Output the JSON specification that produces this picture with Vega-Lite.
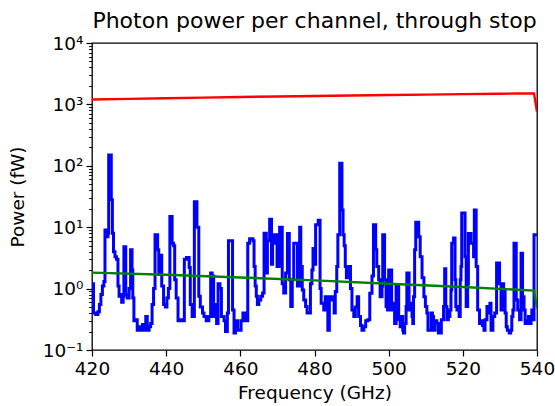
{
  "$schema": "https://vega.github.io/schema/vega-lite/v6.json",
  "width": 445,
  "height": 307,
  "autosize": {"type": "none"},
  "padding": {"left": 92, "top": 43, "right": 18, "bottom": 56},
  "background": "white",
  "config": {
    "font": "DejaVu Sans",
    "view": {"stroke": "black", "strokeWidth": 1.3},
    "axis": {"grid": false, "domain": false, "tickColor": "black", "labelColor": "black", "titleColor": "black", "labelFont": "DejaVu Sans", "titleFont": "DejaVu Sans", "labelFontSize": 18.5, "titleFontSize": 18.5, "titleFontWeight": "normal", "tickWidth": 1.2}
  },
  "title": {"text": "Photon power per channel, through stop", "fontSize": 22, "fontWeight": "normal", "font": "DejaVu Sans", "color": "black", "anchor": "middle", "baseline": "alphabetic", "offset": 14, "dy": 30},
  "datasets": {
    "blue": [
      {"f":420.0,"p":1.2},{"f":420.4,"p":0.4},{"f":421.0,"p":0.38},{"f":421.6,"p":0.42},{"f":422.0,"p":0.55},{"f":422.4,"p":0.8},{"f":422.8,"p":1.1},{"f":423.2,"p":1.3},{"f":423.5,"p":9},{"f":424.0,"p":7},{"f":424.3,"p":8},{"f":424.5,"p":150},{"f":425.2,"p":28},{"f":425.5,"p":8},{"f":425.8,"p":4},{"f":426.2,"p":3.3},{"f":426.6,"p":3.0},{"f":427.0,"p":1.1},{"f":427.3,"p":0.75},{"f":427.7,"p":0.8},{"f":428.0,"p":0.6},{"f":428.4,"p":0.75},{"f":428.6,"p":4.8},{"f":429.1,"p":0.8},{"f":429.5,"p":0.7},{"f":430.0,"p":1.0},{"f":430.4,"p":4.3},{"f":430.8,"p":2.0},{"f":431.0,"p":0.7},{"f":431.3,"p":0.3},{"f":431.8,"p":0.31},{"f":432.2,"p":0.21},{"f":432.8,"p":0.24},{"f":433.2,"p":0.21},{"f":433.6,"p":0.26},{"f":434.0,"p":0.21},{"f":434.5,"p":0.35},{"f":434.9,"p":0.21},{"f":435.4,"p":0.24},{"f":435.8,"p":0.27},{"f":436.2,"p":0.55},{"f":436.6,"p":1.0},{"f":437.0,"p":7.5},{"f":437.7,"p":4.3},{"f":438.0,"p":1.7},{"f":438.3,"p":3.5},{"f":438.8,"p":1.1},{"f":439.3,"p":0.55},{"f":439.8,"p":0.5},
      {"f":440.2,"p":0.7},{"f":440.6,"p":1.0},{"f":441.0,"p":15},{"f":441.6,"p":5.5},{"f":442.0,"p":5},{"f":442.3,"p":1.4},{"f":442.7,"p":0.7},{"f":443.2,"p":0.3},{"f":443.8,"p":0.31},{"f":444.3,"p":0.3},{"f":444.9,"p":3.0},{"f":445.5,"p":3.2},{"f":446.2,"p":2.2},{"f":446.5,"p":0.55},{"f":447.0,"p":0.35},{"f":447.6,"p":26},{"f":448.3,"p":10},{"f":448.8,"p":0.75},{"f":449.2,"p":0.5},{"f":449.8,"p":0.4},{"f":450.2,"p":0.35},{"f":450.8,"p":0.3},{"f":451.5,"p":0.35},{"f":452.0,"p":1.8},{"f":452.4,"p":1.6},{"f":452.8,"p":0.35},{"f":453.2,"p":0.55},{"f":453.6,"p":0.27},{"f":454.0,"p":1.2},{"f":454.5,"p":1.0},{"f":454.9,"p":0.35},{"f":455.6,"p":0.3},{"f":456.0,"p":0.2},{"f":456.5,"p":0.4},{"f":456.8,"p":6},{"f":457.9,"p":0.45},{"f":458.3,"p":0.19},{"f":458.7,"p":0.3},{"f":459.3,"p":0.21},
      {"f":460.2,"p":0.3},{"f":460.7,"p":0.4},{"f":461.3,"p":0.3},{"f":462.0,"p":5.5},{"f":462.5,"p":6.5},{"f":463.4,"p":6.0},{"f":463.7,"p":2.3},{"f":464.0,"p":1.1},{"f":464.3,"p":0.75},{"f":464.6,"p":0.55},{"f":465.0,"p":0.65},{"f":465.5,"p":0.75},{"f":466.0,"p":0.85},{"f":466.4,"p":8},{"f":467.0,"p":1.8},{"f":467.3,"p":6},{"f":467.9,"p":13.5},{"f":468.4,"p":2.5},{"f":468.7,"p":5.5},{"f":469.2,"p":7.5},{"f":469.9,"p":2.3},{"f":470.6,"p":10},{"f":471.3,"p":1.2},{"f":471.7,"p":0.85},{"f":472.2,"p":1.8},{"f":472.7,"p":7.9},{"f":473.2,"p":1.4},{"f":473.6,"p":0.51},{"f":474.0,"p":1.4},{"f":474.4,"p":5.5},{"f":475.4,"p":1.1},{"f":476.0,"p":10},{"f":476.3,"p":2.3},{"f":476.7,"p":0.95},{"f":477.1,"p":0.65},{"f":477.6,"p":0.51},{"f":478.0,"p":0.4},{"f":478.9,"p":1.2},{"f":479.3,"p":2.0},{"f":479.6,"p":4.5},
      {"f":480.0,"p":2.5},{"f":480.3,"p":11},{"f":481.0,"p":13},{"f":481.5,"p":1.0},{"f":481.8,"p":0.58},{"f":482.5,"p":0.45},{"f":482.9,"p":0.74},{"f":483.6,"p":0.21},{"f":484.0,"p":0.74},{"f":484.5,"p":0.65},{"f":484.9,"p":0.74},{"f":485.3,"p":0.4},{"f":485.6,"p":0.9},{"f":486.0,"p":2.3},{"f":486.3,"p":7.5},{"f":486.8,"p":110},{"f":487.4,"p":19},{"f":487.7,"p":7.5},{"f":488.0,"p":5},{"f":488.3,"p":2.3},{"f":488.6,"p":1.5},{"f":489.0,"p":2.3},{"f":489.7,"p":1.0},{"f":490.1,"p":0.45},{"f":490.6,"p":0.35},{"f":491.0,"p":0.5},{"f":491.5,"p":0.74},{"f":491.9,"p":0.35},{"f":492.4,"p":0.25},{"f":492.8,"p":0.21},{"f":493.3,"p":0.24},{"f":493.8,"p":0.3},{"f":494.4,"p":0.31},{"f":494.9,"p":0.84},{"f":495.5,"p":1.6},{"f":495.9,"p":11},{"f":496.5,"p":4.3},{"f":496.8,"p":2.3},{"f":497.3,"p":1.4},{"f":497.7,"p":0.74},{"f":498.2,"p":1.1},{"f":498.4,"p":7.5},{"f":498.9,"p":1.4},{"f":499.3,"p":0.51},{"f":499.7,"p":0.45},
      {"f":500.0,"p":2.0},{"f":500.8,"p":0.45},{"f":501.3,"p":0.58},{"f":501.6,"p":0.27},{"f":502.0,"p":1.1},{"f":502.7,"p":0.31},{"f":503.1,"p":0.24},{"f":503.4,"p":0.35},{"f":503.8,"p":0.21},{"f":504.0,"p":0.19},{"f":504.3,"p":0.27},{"f":504.7,"p":0.51},{"f":504.9,"p":1.8},{"f":505.5,"p":0.45},{"f":505.8,"p":0.58},{"f":506.3,"p":0.35},{"f":506.5,"p":0.27},{"f":506.7,"p":0.74},{"f":507.0,"p":4.3},{"f":507.3,"p":12},{"f":508.1,"p":7},{"f":508.5,"p":3.3},{"f":509.0,"p":1.5},{"f":509.5,"p":0.74},{"f":509.9,"p":0.51},{"f":510.3,"p":0.4},{"f":510.6,"p":0.21},{"f":511.5,"p":0.4},{"f":511.8,"p":0.35},{"f":512.1,"p":0.21},{"f":512.5,"p":0.3},{"f":513.0,"p":0.27},{"f":513.4,"p":0.19},{"f":514.2,"p":0.31},{"f":514.8,"p":0.51},{"f":515.1,"p":2.1},{"f":515.4,"p":0.51},{"f":515.7,"p":0.31},{"f":516.1,"p":0.35},{"f":516.5,"p":0.45},{"f":516.8,"p":0.95},{"f":517.0,"p":5.5},{"f":517.5,"p":6.7},{"f":517.9,"p":1.4},{"f":518.1,"p":0.51},{"f":518.4,"p":0.45},{"f":518.8,"p":0.51},{"f":519.0,"p":0.35},{"f":519.3,"p":1.4},{"f":519.5,"p":2.3},{"f":519.7,"p":17},
      {"f":520.6,"p":3.3},{"f":520.9,"p":0.51},{"f":521.3,"p":1.2},{"f":521.5,"p":7.9},{"f":522.2,"p":5.5},{"f":522.9,"p":3.3},{"f":523.1,"p":19},{"f":523.6,"p":2.3},{"f":524.0,"p":0.45},{"f":524.5,"p":0.27},{"f":524.9,"p":0.3},{"f":525.3,"p":0.25},{"f":525.7,"p":0.21},{"f":526.0,"p":0.31},{"f":526.5,"p":0.51},{"f":526.9,"p":0.4},{"f":527.3,"p":0.58},{"f":527.6,"p":0.21},{"f":528.1,"p":0.35},{"f":528.6,"p":0.4},{"f":529.1,"p":2.6},{"f":529.9,"p":1.2},{"f":530.3,"p":0.45},{"f":530.6,"p":1.2},{"f":531.0,"p":0.9},{"f":531.4,"p":0.4},{"f":531.7,"p":0.24},{"f":532.0,"p":0.21},{"f":532.5,"p":0.19},{"f":532.9,"p":0.21},{"f":533.2,"p":0.35},{"f":533.5,"p":0.45},{"f":533.8,"p":5.5},{"f":534.4,"p":0.65},{"f":534.8,"p":0.45},{"f":535.3,"p":0.31},{"f":535.7,"p":3.75},{"f":536.1,"p":0.74},{"f":536.5,"p":0.45},{"f":536.8,"p":0.27},{"f":537.2,"p":0.3},{"f":537.7,"p":0.35},{"f":538.0,"p":0.27},{"f":538.4,"p":0.31},{"f":538.6,"p":0.45},{"f":538.9,"p":0.31},{"f":539.2,"p":7.5},{"f":540.0,"p":7.5}
    ],
    "green": [
      {"f":420,"p":1.82},{"f":440,"p":1.68},{"f":460,"p":1.52},{"f":480,"p":1.36},{"f":500,"p":1.2},{"f":520,"p":1.06},{"f":539.2,"p":0.93},{"f":540,"p":0.48}
    ],
    "red": [
      {"f":420,"p":1200},{"f":430,"p":1230},{"f":440,"p":1260},{"f":450,"p":1290},{"f":460,"p":1320},{"f":470,"p":1345},{"f":480,"p":1370},{"f":490,"p":1395},{"f":500,"p":1420},{"f":510,"p":1445},{"f":520,"p":1470},{"f":530,"p":1495},{"f":535,"p":1505},{"f":539.2,"p":1510},{"f":540,"p":760}
    ]
  },
  "encoding": {
    "x": {"field": "f", "type": "quantitative", "title": "Frequency (GHz)",
      "scale": {"domain": [420, 540], "nice": false, "zero": false},
      "axis": {"values": [420, 440, 460, 480, 500, 520, 540], "tickSize": 6, "labelPadding": 3, "titlePadding": 6, "labelFlush": false}},
    "y": {"field": "p", "type": "quantitative", "title": "Power (fW)",
      "scale": {"type": "log", "domain": [0.1, 10000], "nice": false},
      "axis": {
        "values": [0.1,0.2,0.3,0.4,0.5,0.6,0.7,0.8,0.9,1,2,3,4,5,6,7,8,9,10,20,30,40,50,60,70,80,90,100,200,300,400,500,600,700,800,900,1000,2000,3000,4000,5000,6000,7000,8000,9000,10000],
        "labelExpr": "datum.value < 0.15 ? '10⁻¹' : datum.value == 1 ? '10⁰' : datum.value == 10 ? '10¹' : datum.value == 100 ? '10²' : datum.value == 1000 ? '10³' : datum.value == 10000 ? '10⁴' : ''",
        "tickSize": {"condition": {"test": "abs(log(datum.value)/LN10 - round(log(datum.value)/LN10)) < 0.001", "value": 6}, "value": 3.5},
        "tickWidth": {"condition": {"test": "abs(log(datum.value)/LN10 - round(log(datum.value)/LN10)) < 0.001", "value": 1.2}, "value": 0.9},
        "labelPadding": 3, "titlePadding": 15, "labelOverlap": false, "labelFlush": false}}
  },
  "layer": [
    {"data": {"name": "blue"}, "mark": {"type": "line", "color": "#0000ff", "strokeWidth": 3, "interpolate": "step-after", "clip": true}},
    {"data": {"name": "green"}, "mark": {"type": "line", "color": "#008000", "strokeWidth": 2.4, "clip": true}},
    {"data": {"name": "red"}, "mark": {"type": "line", "color": "#ff0000", "strokeWidth": 2.4, "clip": true}}
  ]
}
